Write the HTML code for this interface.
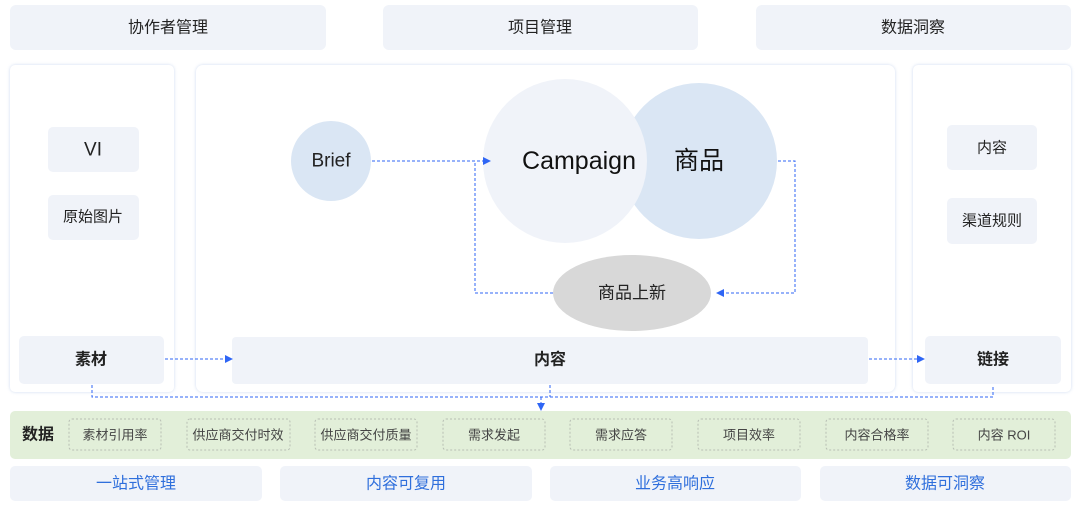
<!DOCTYPE html>
<html><head><meta charset="utf-8"><style>
body{margin:0;width:1080px;height:510px;background:#fff;overflow:hidden}
svg text{font-family:"Liberation Sans","Noto Sans CJK SC",sans-serif;text-anchor:middle;dominant-baseline:central}
</style></head><body>
<svg width="1080" height="510" viewBox="0 0 1080 510" xmlns="http://www.w3.org/2000/svg">
<defs>
<marker id="a" markerWidth="8" markerHeight="8" refX="7" refY="4" orient="auto" markerUnits="userSpaceOnUse"><path d="M0,0 L8,4 L0,8 z" fill="#2f66f5"/></marker>
<filter id="sh" x="-5%" y="-5%" width="110%" height="110%"><feDropShadow dx="0" dy="0" stdDeviation="1.5" flood-color="#c9d6ee" flood-opacity="0.9"/></filter>
</defs>
<g fill="#f0f3f9">
<rect x="10" y="5" width="316" height="45" rx="6"/>
<rect x="383" y="5" width="315" height="45" rx="6"/>
<rect x="756" y="5" width="315" height="45" rx="6"/>
</g>
<g font-size="16" fill="#222">
<text x="168" y="28">协作者管理</text>
<text x="540" y="28">项目管理</text>
<text x="913" y="28">数据洞察</text>
</g>
<g fill="#fff" filter="url(#sh)">
<rect x="10" y="65" width="164" height="327" rx="5"/>
<rect x="196" y="65" width="699" height="327" rx="7"/>
<rect x="913" y="65" width="158" height="327" rx="5"/>
</g>
<g fill="#f0f3f9">
<rect x="48" y="127" width="91" height="45" rx="5"/>
<rect x="48" y="195" width="91" height="45" rx="5"/>
<rect x="19" y="336" width="145" height="48" rx="5"/>
<rect x="232" y="337" width="636" height="47" rx="4"/>
<rect x="947" y="125" width="90" height="45" rx="5"/>
<rect x="947" y="198" width="90" height="46" rx="5"/>
<rect x="925" y="336" width="136" height="48" rx="5"/>
</g>
<g fill="#222">
<text x="93" y="150" font-size="19">VI</text>
<text x="93" y="217" font-size="15">原始图片</text>
<text x="91" y="360" font-size="16" font-weight="bold">素材</text>
<text x="550" y="360" font-size="16" font-weight="bold">内容</text>
<text x="992" y="148" font-size="15">内容</text>
<text x="992" y="221" font-size="15">渠道规则</text>
<text x="993" y="360" font-size="16" font-weight="bold">链接</text>
</g>
<circle cx="331" cy="161" r="40" fill="#dae6f4"/>
<circle cx="699" cy="161" r="78" fill="#dae6f4"/>
<circle cx="565" cy="161" r="82" fill="#f0f3f9"/>
<ellipse cx="632" cy="293" rx="79" ry="38" fill="#d8d8d8"/>
<text x="331" y="161" font-size="19" fill="#222">Brief</text>
<text x="579" y="161" font-size="25" fill="#111">Campaign</text>
<text x="699" y="161" font-size="25" fill="#111">商品</text>
<text x="632" y="293" font-size="17" fill="#222">商品上新</text>
<g fill="none" stroke="#2f66f5" stroke-width="1" stroke-dasharray="3,2">
<path d="M372,161 H490" marker-end="url(#a)"/>
<path d="M778,161 H795 V293 H717" marker-end="url(#a)"/>
<path d="M553,293 H475 V161"/>
<path d="M165,359 H232" marker-end="url(#a)"/>
<path d="M869,359 H924" marker-end="url(#a)"/>
<path d="M92,385 V397 H993 V385"/>
<path d="M550,385 V397"/>
<path d="M541,397 V410" marker-end="url(#a)"/>
</g>
<rect x="10" y="411" width="1061" height="48" rx="5" fill="#e2efd9"/>
<text x="38" y="435" font-size="16" font-weight="bold" fill="#222">数据</text>
<g fill="none" stroke="#b8bfb4" stroke-dasharray="2,2">
<rect x="69" y="419" width="92" height="31" rx="3"/>
<rect x="187" y="419" width="103" height="31" rx="3"/>
<rect x="315" y="419" width="102" height="31" rx="3"/>
<rect x="443" y="419" width="102" height="31" rx="3"/>
<rect x="570" y="419" width="102" height="31" rx="3"/>
<rect x="698" y="419" width="102" height="31" rx="3"/>
<rect x="826" y="419" width="102" height="31" rx="3"/>
<rect x="953" y="419" width="102" height="31" rx="3"/>
</g>
<g font-size="13" fill="#444">
<text x="115" y="435">素材引用率</text>
<text x="238" y="435">供应商交付时效</text>
<text x="366" y="435">供应商交付质量</text>
<text x="494" y="435">需求发起</text>
<text x="621" y="435">需求应答</text>
<text x="749" y="435">项目效率</text>
<text x="877" y="435">内容合格率</text>
<text x="1004" y="435">内容 ROI</text>
</g>
<g fill="#f0f3f9">
<rect x="10" y="466" width="252" height="35" rx="5"/>
<rect x="280" y="466" width="252" height="35" rx="5"/>
<rect x="550" y="466" width="251" height="35" rx="5"/>
<rect x="820" y="466" width="251" height="35" rx="5"/>
</g>
<g font-size="16" fill="#2f6fdc">
<text x="136" y="484">一站式管理</text>
<text x="406" y="484">内容可复用</text>
<text x="675" y="484">业务高响应</text>
<text x="945" y="484">数据可洞察</text>
</g>
</svg>
</body></html>
